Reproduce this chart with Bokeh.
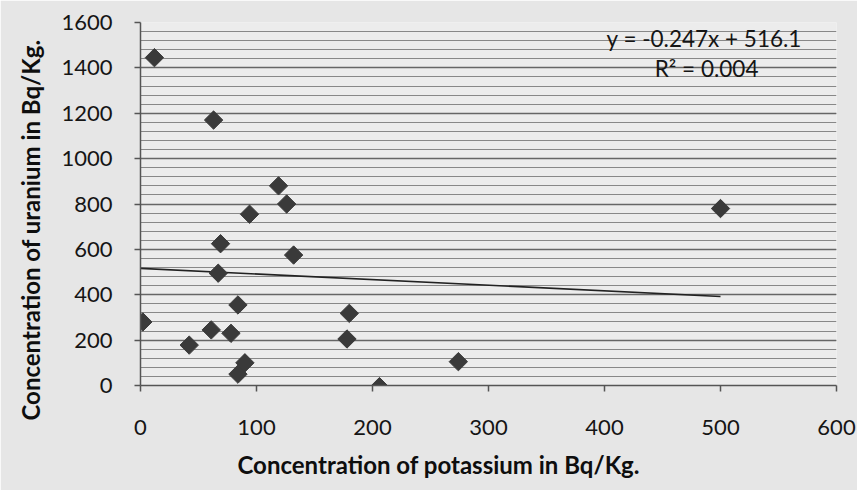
import numpy as np
from bokeh.plotting import figure
from bokeh.models import Range1d, SingleIntervalTicker, FixedTicker, Label, Title
from bokeh.embed import file_html
from bokeh.resources import INLINE

# Data
potassium = [12, 63, 119, 126, 94, 69, 132, 67, 2, 84, 61, 78, 42, 90, 84, 180, 178, 206, 274, 500]
uranium = [1445, 1170, 880, 800, 755, 625, 575, 495, 280, 355, 245, 230, 178, 100, 50, 318, 205, -5, 105, 780]

# Trend line parameters (as printed on the chart)
slope = -0.247
intercept = 516.1
eq_text = "y = -0.247x + 516.1"
r2_text = "R² = 0.004"

x_ticks = [0, 100, 200, 300, 400, 500, 600]
y_ticks = [0, 200, 400, 600, 800, 1000, 1200, 1400, 1600]

x_title = "Concentration of potassium in Bq/Kg."
y_title = "Concentration of uranium in Bq/Kg."

FONT = "Lato"

p = figure(width=857, height=490, output_backend="svg", toolbar_location=None,
           x_range=Range1d(0, 600), y_range=Range1d(0, 1600),
           min_border_left=138, min_border_right=21, min_border_top=22, min_border_bottom=105)

p.background_fill_color = "#ececec"
p.border_fill_color = "#e6e6e6"
p.outline_line_color = None

# grid
p.xgrid.grid_line_color = None
p.yaxis.ticker = SingleIntervalTicker(interval=200, num_minor_ticks=5)
p.ygrid.ticker = p.yaxis.ticker
p.ygrid.grid_line_color = "#666666"
p.ygrid.grid_line_width = 1.3
p.ygrid.minor_grid_line_color = "#888888"
p.ygrid.minor_grid_line_width = 1

p.xaxis.ticker = FixedTicker(ticks=x_ticks)

for ax in (p.xaxis, p.yaxis):
    ax.axis_line_color = "#555555"
    ax.axis_line_width = 1.5
    ax.major_tick_line_color = "#555555"
    ax.major_tick_line_width = 1.5
    ax.major_tick_in = 0
    ax.major_tick_out = 6
    ax.minor_tick_line_color = None
    ax.major_label_text_font = FONT
    ax.major_label_text_font_size = "22px"
    ax.major_label_text_color = "#151515"

p.xaxis.major_label_standoff = 28
p.yaxis.major_label_standoff = 22

# axis titles as side titles (the originals sit off the frame centre)
p.add_layout(Title(text=x_title, align="left", offset=97, standoff=20,
                   text_font=FONT, text_font_style="bold", text_font_size="24px",
                   text_color="#0e0e0e"), "below")
p.add_layout(Title(text=y_title, align="left", offset=-35, standoff=27,
                   text_font=FONT, text_font_style="bold", text_font_size="24px",
                   text_color="#0e0e0e"), "left")

# trendline
tx = np.array([0, max(potassium)])
ty = slope * tx + intercept
p.line(tx, ty, line_color="#222222", line_width=1.6)

# points
p.scatter(potassium, uranium, marker="square", angle=np.pi / 4, size=13,
          fill_color="#3a3a3a", line_color="#3a3a3a")

p.add_layout(Label(x=486, y=1529, text=eq_text, text_align="center", text_baseline="alphabetic",
                   text_font=FONT, text_font_size="22.5px", text_color="#151515"))
p.add_layout(Label(x=488, y=1397, text=r2_text, text_align="center", text_baseline="alphabetic",
                   text_font=FONT, text_font_size="22.5px", text_color="#151515"))

open("out.html", "w").write(file_html(p, INLINE))
